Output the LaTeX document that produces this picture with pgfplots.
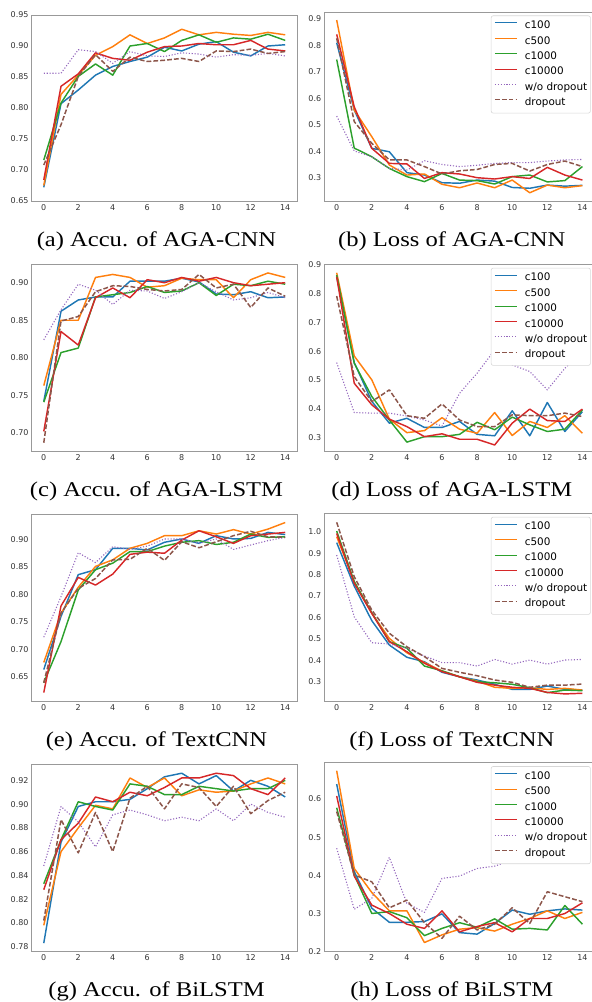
\documentclass[border=0pt]{standalone}
\usepackage{pgfplots}
\pgfplotsset{compat=1.18}
\usepackage{pgfplotstable}
\usepackage{fontspec}
\setmainfont{DejaVu Sans}
\newfontfamily\capfont{Liberation Serif}
\definecolor{c1}{HTML}{1F77B4}
\definecolor{c2}{HTML}{FF7F0E}
\definecolor{c3}{HTML}{2CA02C}
\definecolor{c4}{HTML}{D62728}
\definecolor{c5}{HTML}{9467BD}
\definecolor{c6}{HTML}{8C564B}

\pgfplotstableread{
x c100 c500 c1000 c10000 wo do
0 0.672 0.675 0.716 0.684 0.856 0.708
1 0.807 0.822 0.808 0.835 0.856 0.773
2 0.829 0.853 0.851 0.855 0.894 0.851
3 0.853 0.885 0.871 0.889 0.891 0.886
4 0.867 0.899 0.853 0.880 0.872 0.859
5 0.875 0.918 0.900 0.877 0.891 0.882
6 0.882 0.904 0.904 0.890 0.884 0.875
7 0.898 0.913 0.891 0.899 0.883 0.877
8 0.892 0.927 0.909 0.900 0.889 0.880
9 0.903 0.918 0.918 0.904 0.887 0.875
10 0.907 0.922 0.906 0.902 0.882 0.892
11 0.890 0.919 0.913 0.902 0.886 0.891
12 0.884 0.917 0.911 0.909 0.885 0.895
13 0.900 0.922 0.919 0.895 0.888 0.888
14 0.902 0.918 0.909 0.892 0.884 0.891
}\tabA
\pgfplotstableread{
x c100 c500 c1000 c10000 wo do
0 0.810 0.896 0.747 0.842 0.533 0.827
1 0.556 0.556 0.412 0.568 0.401 0.512
2 0.411 0.455 0.379 0.411 0.379 0.430
3 0.398 0.348 0.335 0.354 0.335 0.367
4 0.319 0.310 0.304 0.352 0.329 0.367
5 0.310 0.314 0.285 0.297 0.364 0.342
6 0.281 0.275 0.316 0.319 0.350 0.314
7 0.279 0.262 0.291 0.314 0.342 0.326
8 0.291 0.280 0.289 0.300 0.347 0.331
9 0.287 0.262 0.276 0.295 0.354 0.350
10 0.263 0.291 0.304 0.304 0.357 0.354
11 0.260 0.243 0.310 0.297 0.357 0.325
12 0.272 0.272 0.284 0.339 0.363 0.350
13 0.268 0.262 0.289 0.310 0.367 0.363
14 0.271 0.270 0.342 0.291 0.369 0.342
}\tabB
\pgfplotstableread{
x c100 c500 c1000 c10000 wo do
0 0.742 0.763 0.741 0.702 0.824 0.687
1 0.862 0.850 0.807 0.835 0.864 0.849
2 0.877 0.850 0.813 0.817 0.898 0.855
3 0.881 0.907 0.881 0.880 0.890 0.888
4 0.881 0.911 0.884 0.893 0.871 0.896
5 0.902 0.907 0.887 0.880 0.890 0.895
6 0.902 0.894 0.895 0.904 0.889 0.891
7 0.902 0.896 0.887 0.900 0.879 0.889
8 0.906 0.906 0.889 0.907 0.888 0.891
9 0.901 0.904 0.900 0.902 0.900 0.911
10 0.885 0.904 0.883 0.907 0.888 0.893
11 0.884 0.880 0.898 0.900 0.877 0.898
12 0.888 0.904 0.896 0.896 0.880 0.867
13 0.880 0.913 0.902 0.898 0.887 0.893
14 0.881 0.907 0.898 0.900 0.880 0.882
}\tabC
\pgfplotstableread{
x c100 c500 c1000 c10000 wo do
0 0.859 0.873 0.865 0.859 0.560 0.792
1 0.560 0.583 0.558 0.488 0.386 0.511
2 0.425 0.500 0.442 0.413 0.384 0.424
3 0.349 0.363 0.360 0.363 0.384 0.465
4 0.366 0.316 0.283 0.337 0.374 0.375
5 0.334 0.323 0.302 0.302 0.360 0.366
6 0.334 0.368 0.302 0.312 0.339 0.416
7 0.355 0.328 0.310 0.293 0.453 0.360
8 0.310 0.314 0.352 0.293 0.523 0.337
9 0.305 0.386 0.326 0.273 0.604 0.337
10 0.392 0.306 0.370 0.349 0.552 0.378
11 0.305 0.355 0.343 0.398 0.529 0.375
12 0.421 0.334 0.320 0.358 0.465 0.375
13 0.320 0.375 0.328 0.355 0.540 0.384
14 0.389 0.314 0.395 0.398 0.598 0.372
}\tabD
\pgfplotstableread{
x c100 c500 c1000 c10000 wo do
0 0.663 0.676 0.639 0.621 0.722 0.639
1 0.760 0.766 0.714 0.779 0.796 0.766
2 0.836 0.813 0.808 0.831 0.876 0.811
3 0.845 0.851 0.845 0.817 0.858 0.829
4 0.884 0.863 0.857 0.837 0.887 0.863
5 0.884 0.884 0.878 0.873 0.882 0.864
6 0.881 0.893 0.878 0.877 0.888 0.884
7 0.895 0.907 0.888 0.875 0.901 0.862
8 0.901 0.907 0.895 0.899 0.901 0.896
9 0.893 0.916 0.898 0.916 0.893 0.885
10 0.907 0.910 0.891 0.905 0.901 0.896
11 0.901 0.918 0.895 0.893 0.882 0.907
12 0.902 0.910 0.910 0.907 0.890 0.915
13 0.913 0.919 0.904 0.910 0.898 0.905
14 0.909 0.931 0.905 0.913 0.904 0.904
}\tabE
\pgfplotstableread{
x c100 c500 c1000 c10000 wo do
0 0.949 0.977 1.003 0.992 0.891 1.044
1 0.746 0.767 0.767 0.759 0.603 0.790
2 0.585 0.619 0.622 0.619 0.482 0.634
3 0.471 0.502 0.487 0.487 0.476 0.526
4 0.414 0.435 0.456 0.440 0.456 0.463
5 0.393 0.389 0.373 0.386 0.420 0.417
6 0.344 0.350 0.351 0.347 0.389 0.362
7 0.323 0.323 0.323 0.323 0.389 0.344
8 0.308 0.303 0.300 0.297 0.373 0.328
9 0.288 0.274 0.295 0.284 0.404 0.308
10 0.264 0.269 0.288 0.274 0.382 0.297
11 0.264 0.272 0.272 0.269 0.401 0.274
12 0.280 0.264 0.249 0.250 0.382 0.284
13 0.264 0.269 0.261 0.243 0.401 0.284
14 0.261 0.261 0.258 0.246 0.404 0.289
}\tabF
\pgfplotstableread{
x c100 c500 c1000 c10000 wo do
0 0.783 0.798 0.833 0.828 0.848 0.802
1 0.868 0.860 0.870 0.870 0.898 0.887
2 0.898 0.880 0.902 0.884 0.885 0.859
3 0.902 0.899 0.898 0.906 0.864 0.893
4 0.902 0.896 0.895 0.902 0.891 0.860
5 0.904 0.922 0.917 0.910 0.895 0.905
6 0.913 0.914 0.915 0.907 0.891 0.915
7 0.923 0.922 0.908 0.914 0.886 0.896
8 0.926 0.907 0.908 0.922 0.889 0.917
9 0.917 0.912 0.915 0.922 0.886 0.914
10 0.924 0.910 0.913 0.926 0.896 0.898
11 0.911 0.911 0.911 0.924 0.886 0.915
12 0.920 0.917 0.913 0.913 0.900 0.892
13 0.915 0.922 0.913 0.908 0.893 0.903
14 0.906 0.917 0.920 0.922 0.889 0.910
}\tabG
\pgfplotstableread{
x c100 c500 c1000 c10000 wo do
0 0.639 0.674 0.577 0.608 0.471 0.567
1 0.410 0.418 0.401 0.398 0.311 0.401
2 0.314 0.355 0.300 0.322 0.340 0.383
3 0.277 0.307 0.305 0.300 0.447 0.315
4 0.277 0.307 0.289 0.272 0.327 0.335
5 0.279 0.224 0.242 0.261 0.303 0.276
6 0.299 0.244 0.261 0.307 0.392 0.235
7 0.250 0.259 0.276 0.252 0.398 0.293
8 0.246 0.263 0.264 0.266 0.418 0.257
9 0.274 0.254 0.286 0.276 0.424 0.272
10 0.309 0.272 0.259 0.252 0.440 0.315
11 0.298 0.287 0.261 0.287 0.455 0.274
12 0.307 0.307 0.257 0.287 0.465 0.357
13 0.312 0.287 0.321 0.300 0.475 0.344
14 0.309 0.303 0.272 0.328 0.488 0.331
}\tabH

\pgfplotsset{
  panel/.style={
    scale only axis, anchor=south west,
    xmin=-0.7, xmax=14.7,
    xtick={0,2,4,6,8,10,12,14},
    xticklabels={0,2,4,6,8,10,12,14},
    major tick length=0pt,
    axis line style={draw=gray!80, line width=0.8pt},
    tick label style={font=\fontsize{8}{9.5}\selectfont, text=black!80},
    xticklabel style={inner sep=0pt, anchor=north, yshift=-3pt},
    yticklabel style={inner sep=0pt, anchor=east, xshift=-3pt},
    every axis plot/.append style={line join=round},
  },
  L/.style={panel, width=265.6pt},
  R/.style={panel, width=270.3pt,
    legend cell align=left,
    legend image code/.code={\draw[##1, line width=1pt] (0pt,3pt) -- (22pt,3pt);},
    legend style={at={(1,1)}, anchor=north east, xshift=-4pt, yshift=-3.5pt,
      draw={rgb,255:red,215;green,215;blue,215}, line width=0.6pt, rounded corners=2pt,
      fill=white,
      font=\fontsize{10.4}{12}\selectfont,
      inner xsep=3.2pt, inner ysep=2.45pt, row sep=0pt,
      nodes={inner xsep=0pt, inner ysep=2.45pt, text height=8pt, text depth=2.5pt},
      /tikz/every odd column/.style={column sep=7.5pt}},
  },
  s1/.style={c1, line width=1.45pt},
  s2/.style={c2, line width=1.45pt},
  s3/.style={c3, line width=1.45pt},
  s4/.style={c4, line width=1.45pt},
  s5/.style={c5, line width=1.1pt, dash pattern=on 1.1pt off 1.8pt},
  s6/.style={c6, line width=1.5pt, dash pattern=on 4.8pt off 2.1pt},
}

\newcommand{\sixplots}[1]{%
  \addplot[s1] table[x=x,y=c100]{#1};
  \addplot[s2] table[x=x,y=c500]{#1};
  \addplot[s3] table[x=x,y=c1000]{#1};
  \addplot[s4] table[x=x,y=c10000]{#1};
  \addplot[s5] table[x=x,y=wo]{#1};
  \addplot[s6] table[x=x,y=do]{#1};
}
\newcommand{\subcap}[3]{\node[anchor=base, font=\capfont\fontsize{21}{25}\selectfont] at (#1pt,#2pt) {\scalebox{1.17}[1]{#3}};}

\begin{document}
\begin{tikzpicture}
\path[use as bounding box] (0pt,0pt) rectangle (592pt,1002pt);

% (a)
\begin{axis}[L, at={(31.7pt,801pt)}, height=186pt, ymin=0.65, ymax=0.95,
  ytick={0.65,0.70,0.75,0.80,0.85,0.90,0.95},
  yticklabels={0.65,0.70,0.75,0.80,0.85,0.90,0.95}]
\sixplots{\tabA}
\end{axis}
% (b)
\begin{axis}[R, at={(324.4pt,800.5pt)}, height=189.5pt, ymin=0.21, ymax=0.9265,
  ytick={0.3,0.4,0.5,0.6,0.7,0.8,0.9},
  yticklabels={0.3,0.4,0.5,0.6,0.7,0.8,0.9}]
\sixplots{\tabB}
\legend{c100,c500,c1000,c10000,w/o dropout,dropout}
\end{axis}
% (c)
\begin{axis}[L, at={(31.7pt,551pt)}, height=186.7pt, ymin=0.676, ymax=0.9245,
  ytick={0.70,0.75,0.80,0.85,0.90},
  yticklabels={0.70,0.75,0.80,0.85,0.90}]
\sixplots{\tabC}
\end{axis}
% (d)
\begin{axis}[R, at={(324.4pt,550.7pt)}, height=187pt, ymin=0.251, ymax=0.9025,
  ytick={0.3,0.4,0.5,0.6,0.7,0.8,0.9},
  yticklabels={0.3,0.4,0.5,0.6,0.7,0.8,0.9}]
\sixplots{\tabD}
\legend{c100,c500,c1000,c10000,w/o dropout,dropout}
\end{axis}
% (e)
\begin{axis}[L, at={(31.7pt,301pt)}, height=186.7pt, ymin=0.6057, ymax=0.946,
  ytick={0.65,0.70,0.75,0.80,0.85,0.90},
  yticklabels={0.65,0.70,0.75,0.80,0.85,0.90}]
\sixplots{\tabE}
\end{axis}
% (f)
\begin{axis}[R, at={(324.4pt,300.3pt)}, height=188.4pt, ymin=0.2067, ymax=1.086,
  ytick={0.3,0.4,0.5,0.6,0.7,0.8,0.9,1.0},
  yticklabels={0.3,0.4,0.5,0.6,0.7,0.8,0.9,1.0}]
\sixplots{\tabF}
\legend{c100,c500,c1000,c10000,w/o dropout,dropout}
\end{axis}
% (g)
\begin{axis}[L, at={(31.7pt,51pt)}, height=186.7pt, ymin=0.7764, ymax=0.9335,
  ytick={0.78,0.80,0.82,0.84,0.86,0.88,0.90,0.92},
  yticklabels={0.78,0.80,0.82,0.84,0.86,0.88,0.90,0.92}]
\sixplots{\tabG}
\end{axis}
% (h)
\begin{axis}[R, at={(324.4pt,50.3pt)}, height=189pt, ymin=0.2, ymax=0.695,
  ytick={0.2,0.3,0.4,0.5,0.6},
  yticklabels={0.2,0.3,0.4,0.5,0.6}]
\sixplots{\tabH}
\legend{c100,c500,c1000,c10000,w/o dropout,dropout}
\end{axis}

\subcap{156.5}{755.3}{(a) Accu. of AGA-CNN}
\subcap{451.8}{755.3}{(b) Loss of AGA-CNN}
\subcap{156.5}{505.3}{(c) Accu. of AGA-LSTM}
\subcap{451.8}{505.3}{(d) Loss of AGA-LSTM}
\subcap{156.5}{255.3}{(e) Accu. of TextCNN}
\subcap{451.8}{255.3}{(f) Loss of TextCNN}
\subcap{156.5}{5.3}{(g) Accu. of BiLSTM}
\subcap{451.8}{5.3}{(h) Loss of BiLSTM}
\end{tikzpicture}
\end{document}
